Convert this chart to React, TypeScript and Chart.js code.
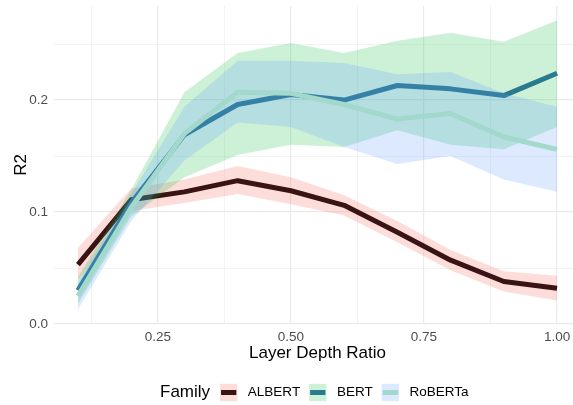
import React, { useEffect, useRef } from "react";
import { Chart, registerables } from "chart.js";

Chart.register(...registerables);

// ---- data ----
const layerRatio = [0.1, 0.2, 0.3, 0.4, 0.5, 0.6, 0.7, 0.8, 0.9, 1.0];

const albertMean = [0.053, 0.111, 0.118, 0.128, 0.119, 0.106, 0.082, 0.057, 0.038, 0.032];
const albertLow = [0.039, 0.101, 0.108, 0.116, 0.107, 0.097, 0.073, 0.048, 0.029, 0.021];
const albertHigh = [0.068, 0.121, 0.129, 0.141, 0.131, 0.115, 0.092, 0.066, 0.047, 0.043];

const bertMean = [0.030, 0.108, 0.169, 0.196, 0.205, 0.200, 0.213, 0.210, 0.204, 0.224];
const bertLow = [0.018, 0.096, 0.131, 0.151, 0.160, 0.158, 0.173, 0.160, 0.156, 0.176];
const bertHigh = [0.042, 0.120, 0.207, 0.242, 0.251, 0.242, 0.253, 0.260, 0.252, 0.271];

const robertaMean = [0.025, 0.104, 0.170, 0.207, 0.206, 0.196, 0.183, 0.188, 0.167, 0.156];
const robertaLow = [0.013, 0.092, 0.146, 0.180, 0.176, 0.158, 0.143, 0.150, 0.129, 0.118];
const robertaHigh = [0.037, 0.116, 0.194, 0.235, 0.235, 0.233, 0.223, 0.225, 0.206, 0.194];

const families = ["ALBERT", "BERT", "RoBERTa"];
const xMajorTicks = [0.25, 0.5, 0.75, 1.0];
const xMinorTicks = [0.125, 0.375, 0.625, 0.875];
const yMajorTicks = [0.0, 0.1, 0.2];
const yMinorTicks = [0.05, 0.15, 0.25];

const xTitle = "Layer Depth Ratio";
const yTitle = "R2";
const legendTitle = "Family";

// ---- styles ----
const FONT = '"Liberation Sans", Arial, Helvetica, sans-serif';
const lineColors = ["#3A1414", "#2A7A8E", "#A2D9CC"];
const fillColors = [
  "rgba(248,118,109,0.25)",
  "rgba(0,186,56,0.2)",
  "rgba(97,156,255,0.22)",
];

const seriesMean = [albertMean, bertMean, robertaMean];
const seriesLow = [albertLow, bertLow, robertaLow];
const seriesHigh = [albertHigh, bertHigh, robertaHigh];

const toPts = (ys: number[]) => layerRatio.map((x, i) => ({ x, y: ys[i] }));

const legendPlugin = {
  id: "ggLegend",
  afterDraw(chart: any) {
    const ctx = chart.ctx as CanvasRenderingContext2D;
    ctx.save();
    const cy = 392.5;
    ctx.textBaseline = "middle";
    ctx.textAlign = "left";
    ctx.fillStyle = "#000000";
    ctx.font = `17px ${FONT}`;
    let x = 160;
    ctx.fillText(legendTitle, x, cy);
    x += ctx.measureText(legendTitle).width + 10;
    const key = 17.3;
    families.forEach((f, i) => {
      ctx.fillStyle = "#ffffff";
      ctx.fillRect(x, cy - key / 2, key, key);
      ctx.fillStyle = fillColors[i];
      ctx.fillRect(x, cy - key / 2, key, key);
      ctx.strokeStyle = lineColors[i];
      ctx.lineWidth = 5;
      ctx.beginPath();
      ctx.moveTo(x + 1, cy);
      ctx.lineTo(x + key - 1, cy);
      ctx.stroke();
      x += key + 10.5;
      ctx.fillStyle = "#000000";
      ctx.font = `13.5px ${FONT}`;
      ctx.fillText(f, x, cy);
      x += ctx.measureText(f).width + 9;
    });
    ctx.restore();
  },
};

function fmtX(v: number) {
  return xMajorTicks.some((t) => Math.abs(t - v) < 1e-9) ? v.toFixed(2) : "";
}
function fmtY(v: number) {
  return yMajorTicks.some((t) => Math.abs(t - v) < 1e-9) ? v.toFixed(1) : "";
}

export default function App() {
  const ref = useRef<HTMLCanvasElement | null>(null);

  useEffect(() => {
    document.body.style.margin = "0";
    const canvas = ref.current;
    if (!canvas) return;

    const datasets: any[] = [];
    families.forEach((f, i) => {
      const base = 10 - i * 3;
      datasets.push({
        label: f + " upper",
        data: toPts(seriesHigh[i]),
        borderWidth: 0,
        pointRadius: 0,
        backgroundColor: fillColors[i],
        borderColor: "rgba(0,0,0,0)",
        fill: "+1",
        order: base,
      });
      datasets.push({
        label: f + " lower",
        data: toPts(seriesLow[i]),
        borderWidth: 0,
        pointRadius: 0,
        borderColor: "rgba(0,0,0,0)",
        fill: false,
        order: base,
      });
      datasets.push({
        label: f,
        data: toPts(seriesMean[i]),
        borderWidth: 5,
        pointRadius: 0,
        borderColor: lineColors[i],
        borderJoinStyle: "round",
        borderCapStyle: "butt",
        fill: false,
        order: base - 1,
      });
    });

    const isMajorX = (v: number) => xMajorTicks.some((t) => Math.abs(t - v) < 1e-9);
    const isMajorY = (v: number) => yMajorTicks.some((t) => Math.abs(t - v) < 1e-9);

    const chart = new Chart(canvas, {
      type: "line",
      data: { datasets },
      plugins: [legendPlugin],
      options: {
        animation: false,
        responsive: false,
        devicePixelRatio: 1,
        layout: { padding: { left: 0, right: 7, top: 6, bottom: 41 } },
        plugins: {
          legend: { display: false },
          tooltip: { enabled: false },
          title: { display: false },
        },
        elements: { line: { tension: 0 } },
        scales: {
          x: {
            type: "linear",
            min: 0.055,
            max: 1.045,
            afterBuildTicks: (scale: any) => {
              scale.ticks = [...xMinorTicks, ...xMajorTicks]
                .sort((a, b) => a - b)
                .map((v) => ({ value: v }));
            },
            afterFit: (scale: any) => {
              scale.height = 40;
              scale.paddingLeft = 0;
              scale.paddingRight = 0;
              scale.paddingTop = 0;
              scale.paddingBottom = 0;
            },
            border: { display: false },
            grid: {
              drawTicks: false,
              color: "#EBEBEB",
              lineWidth: (c: any) => (c.tick && isMajorX(c.tick.value) ? 1.2 : 0.6),
            },
            ticks: {
              autoSkip: false,
              maxRotation: 0,
              padding: 5,
              color: "#4D4D4D",
              font: { family: FONT, size: 13.5 },
              callback: (v: any) => fmtX(Number(v)),
            },
            title: {
              display: true,
              text: xTitle,
              color: "#000000",
              font: { family: FONT, size: 17 },
              padding: { top: 0, bottom: 0.5 },
            },
          },
          y: {
            type: "linear",
            min: 0,
            max: 0.284,
            afterBuildTicks: (scale: any) => {
              scale.ticks = [...yMinorTicks, ...yMajorTicks]
                .sort((a, b) => a - b)
                .map((v) => ({ value: v }));
            },
            afterFit: (scale: any) => {
              scale.width = 54;
              scale.paddingLeft = 0;
              scale.paddingRight = 0;
              scale.paddingTop = 0;
              scale.paddingBottom = 0;
            },
            border: { display: false },
            grid: {
              drawTicks: false,
              color: "#EBEBEB",
              lineWidth: (c: any) => (c.tick && isMajorY(c.tick.value) ? 1.2 : 0.6),
            },
            ticks: {
              autoSkip: false,
              padding: 6,
              color: "#4D4D4D",
              font: { family: FONT, size: 13.5 },
              callback: (v: any) => fmtY(Number(v)),
            },
            title: {
              display: true,
              text: yTitle,
              color: "#000000",
              font: { family: FONT, size: 17 },
              padding: { top: 11, bottom: 0 },
            },
          },
        },
      },
    });

    return () => chart.destroy();
  }, []);

  return (
    <div
      style={{
        position: "absolute",
        left: 0,
        top: 0,
        width: 573,
        height: 405,
        overflow: "hidden",
        background: "#ffffff",
      }}
    >
      <canvas ref={ref} width={588} height={405} style={{ width: 588, height: 405, display: "block" }} />
    </div>
  );
}
